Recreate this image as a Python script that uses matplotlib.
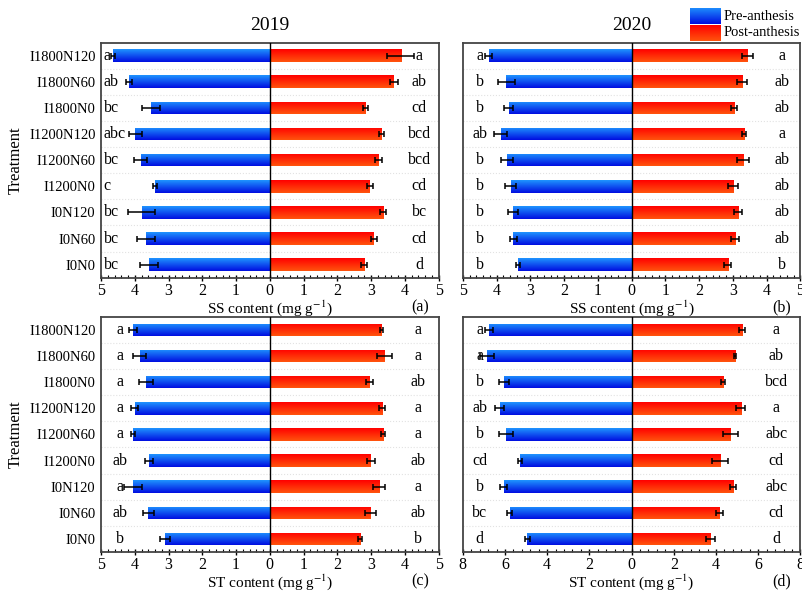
import numpy as np
import matplotlib
matplotlib.use("Agg")
import matplotlib.pyplot as plt
from matplotlib.ticker import MultipleLocator, FuncFormatter

plt.rcParams['font.family'] = ['Liberation Serif', 'DejaVu Serif']
plt.rcParams['mathtext.fontset'] = 'stix'

treatments = ["I1800N120", "I1800N60", "I1800N0", "I1200N120", "I1200N60",
              "I1200N0", "I0N120", "I0N60", "I0N0"]

# (a) SS 2019
ss19_pre = [4.64, 4.17, 3.53, 3.98, 3.82, 3.40, 3.80, 3.67, 3.57]
ss19_pre_err = [0.06, 0.10, 0.27, 0.20, 0.19, 0.06, 0.40, 0.27, 0.27]
ss19_post = [3.88, 3.67, 2.84, 3.30, 3.22, 2.96, 3.36, 3.08, 2.79]
ss19_post_err = [0.40, 0.11, 0.07, 0.07, 0.10, 0.08, 0.09, 0.09, 0.10]
ss19_pre_let = ["a", "ab", "bc", "abc", "bc", "c", "bc", "bc", "bc"]
ss19_post_let = ["a", "ab", "cd", "bcd", "bcd", "cd", "bc", "cd", "d"]

# (b) SS 2020
ss20_pre = [4.23, 3.71, 3.64, 3.88, 3.70, 3.58, 3.52, 3.50, 3.37]
ss20_pre_err = [0.11, 0.26, 0.14, 0.20, 0.18, 0.17, 0.15, 0.10, 0.06]
ss20_post = [3.43, 3.27, 3.03, 3.33, 3.31, 3.01, 3.15, 3.06, 2.85]
ss20_post_err = [0.17, 0.15, 0.10, 0.07, 0.18, 0.14, 0.13, 0.12, 0.10]
ss20_pre_let = ["a", "b", "b", "ab", "b", "b", "b", "b", "b"]
ss20_post_let = ["a", "ab", "ab", "a", "ab", "ab", "ab", "ab", "b"]

# (c) ST 2019
st19_pre = [4.05, 3.85, 3.67, 4.00, 4.05, 3.58, 4.05, 3.60, 3.11]
st19_pre_err = [0.11, 0.19, 0.20, 0.10, 0.07, 0.11, 0.27, 0.17, 0.15]
st19_post = [3.31, 3.39, 2.96, 3.33, 3.36, 2.99, 3.23, 2.99, 2.67]
st19_post_err = [0.05, 0.23, 0.10, 0.09, 0.06, 0.12, 0.19, 0.16, 0.07]
st19_pre_let = ["a", "a", "a", "a", "a", "ab", "a", "ab", "b"]
st19_post_let = ["a", "a", "ab", "a", "a", "ab", "a", "ab", "b"]

# (d) ST 2020
st20_pre = [6.76, 6.85, 6.03, 6.25, 5.97, 5.28, 6.05, 5.78, 4.94]
st20_pre_err = [0.17, 0.34, 0.24, 0.20, 0.33, 0.09, 0.17, 0.13, 0.12]
st20_post = [5.23, 4.90, 4.35, 5.17, 4.69, 4.20, 4.80, 4.16, 3.73]
st20_post_err = [0.14, 0.07, 0.10, 0.20, 0.37, 0.39, 0.15, 0.16, 0.20]
st20_pre_let = ["a", "a", "b", "ab", "b", "cd", "b", "bc", "d"]
st20_post_let = ["a", "ab", "bcd", "a", "abc", "cd", "abc", "cd", "d"]

years = ["2019", "2020"]
legend_labels = ["Pre-anthesis", "Post-anthesis"]

BLUE_TOP = np.array([0.12, 0.58, 1.0])
BLUE_BOT = np.array([0.0, 0.05, 0.88])
RED_TOP = np.array([1.0, 0.0, 0.0])
RED_BOT = np.array([1.0, 0.33, 0.05])

FS = 11


def grad(top, bot, n=64):
    t = np.linspace(0, 1, n)[:, None]
    g = top[None, :] * (1 - t) + bot[None, :] * t
    return g[:, None, :]


def gradient_bars(ax, bars, top, bot):
    img = grad(top, bot)
    for p in bars.patches:
        x0, y0, w, h = p.get_x(), p.get_y(), p.get_width(), p.get_height()
        im = ax.imshow(img, extent=(x0, x0 + w, y0 + h, y0), origin='upper',
                       aspect='auto', zorder=2, interpolation='bilinear')
        im.set_clip_path(p)
        p.set_facecolor('none')
        p.set_edgecolor('none')


fig = plt.figure(figsize=(8.02, 5.91), dpi=100)

W = 0.421
H = 0.398
pos = {
    'a': [0.126, 0.530, W, H],
    'b': [0.577, 0.530, W, H],
    'c': [0.126, 0.066, W, H],
    'd': [0.577, 0.066, W, H],
}

panels = [
    ('a', ss19_pre, ss19_pre_err, ss19_post, ss19_post_err, ss19_pre_let, ss19_post_let,
     5, 1, 0.2, "SS content (mg g$^{-1}$)", -4.92, 'left', 4.42, True, years[0]),
    ('b', ss20_pre, ss20_pre_err, ss20_post, ss20_post_err, ss20_pre_let, ss20_post_let,
     5, 1, 0.2, "SS content (mg g$^{-1}$)", -4.5, 'center', 4.45, False, years[1]),
    ('c', st19_pre, st19_pre_err, st19_post, st19_post_err, st19_pre_let, st19_post_let,
     5, 1, 0.2, "ST content (mg g$^{-1}$)", -4.45, 'center', 4.4, True, None),
    ('d', st20_pre, st20_pre_err, st20_post, st20_post_err, st20_pre_let, st20_post_let,
     8, 2, 0.4, "ST content (mg g$^{-1}$)", -7.2, 'center', 6.85, False, None),
]

y = np.arange(len(treatments))
for (key, pre, pre_e, post, post_e, pre_l, post_l, lim, maj, mnr, xlabel,
     lx, lha, rx, show_y, title) in panels:
    ax = fig.add_axes(pos[key])
    pre_neg = -np.array(pre)
    b1 = ax.barh(y, pre_neg, height=0.48, zorder=2)
    b2 = ax.barh(y, post, height=0.48, zorder=2)
    gradient_bars(ax, b1, BLUE_TOP, BLUE_BOT)
    gradient_bars(ax, b2, RED_TOP, RED_BOT)
    ax.errorbar(pre_neg, y, xerr=pre_e, fmt='none', ecolor='black', elinewidth=1.1,
                capsize=2.5, capthick=1.1, zorder=4)
    ax.errorbar(post, y, xerr=post_e, fmt='none', ecolor='black', elinewidth=1.1,
                capsize=2.5, capthick=1.1, zorder=4)
    for yy in y[:-1]:
        ax.axhline(yy + 0.5, color='#e2e2e2', lw=0.8, ls=':', zorder=1)
    ax.axvline(0, color='black', lw=1.0, zorder=3)
    for i, (l1, l2) in enumerate(zip(pre_l, post_l)):
        ax.text(lx, i, l1, ha=lha, va='center', fontsize=FS + 0.5, zorder=5)
        ax.text(rx, i, l2, ha='center', va='center', fontsize=FS + 0.5, zorder=5)
    ax.set_xlim(-lim, lim)
    ax.set_ylim(len(treatments) - 0.5, -0.5)
    ax.xaxis.set_major_locator(MultipleLocator(maj))
    ax.xaxis.set_minor_locator(MultipleLocator(mnr))
    ax.xaxis.set_major_formatter(FuncFormatter(lambda v, p: f"{abs(v):g}"))
    ax.tick_params(axis='x', which='major', direction='inout', length=5, width=1,
                   labelsize=FS + 0.5, pad=1)
    ax.tick_params(axis='x', which='minor', direction='in', length=2.5, width=0.8)
    ax.set_yticks(y)
    if show_y:
        ax.set_yticklabels(treatments, fontsize=FS - 0.5)
        ax.set_ylabel("Treatment", fontsize=FS + 1)
        ax.yaxis.set_label_coords(-0.228, 0.5)
    else:
        ax.set_yticklabels([])
    ax.tick_params(axis='y', length=0, pad=4)
    ax.set_xlabel(xlabel, fontsize=FS, labelpad=0)
    for s in ax.spines.values():
        s.set_color('#444444')
        s.set_linewidth(1.3)
    ax.text(0.944, -0.125, f"({key})", transform=ax.transAxes, ha='center',
            va='center', fontsize=FS + 0.5)
    if title:
        ax.set_title(title, fontsize=14, pad=9)

# legend with gradient patches
lax = fig.add_axes([690 / 802, 1 - 41 / 591, 31 / 802, 33 / 591])
lax.imshow(grad(BLUE_TOP, BLUE_BOT), extent=(0, 1, 1.0, 0.02), origin='upper', aspect='auto')
lax.imshow(grad(RED_TOP, RED_BOT), extent=(0, 1, 2.0, 1.04), origin='upper', aspect='auto')
lax.set_xlim(0, 1)
lax.set_ylim(2, 0)
lax.axis('off')
fig.text(724 / 802, 1 - 16 / 591, legend_labels[0], fontsize=10.5, va='center', ha='left')
fig.text(724 / 802, 1 - 33 / 591, legend_labels[1], fontsize=10.5, va='center', ha='left')

fig.savefig("out.png", dpi=100)
